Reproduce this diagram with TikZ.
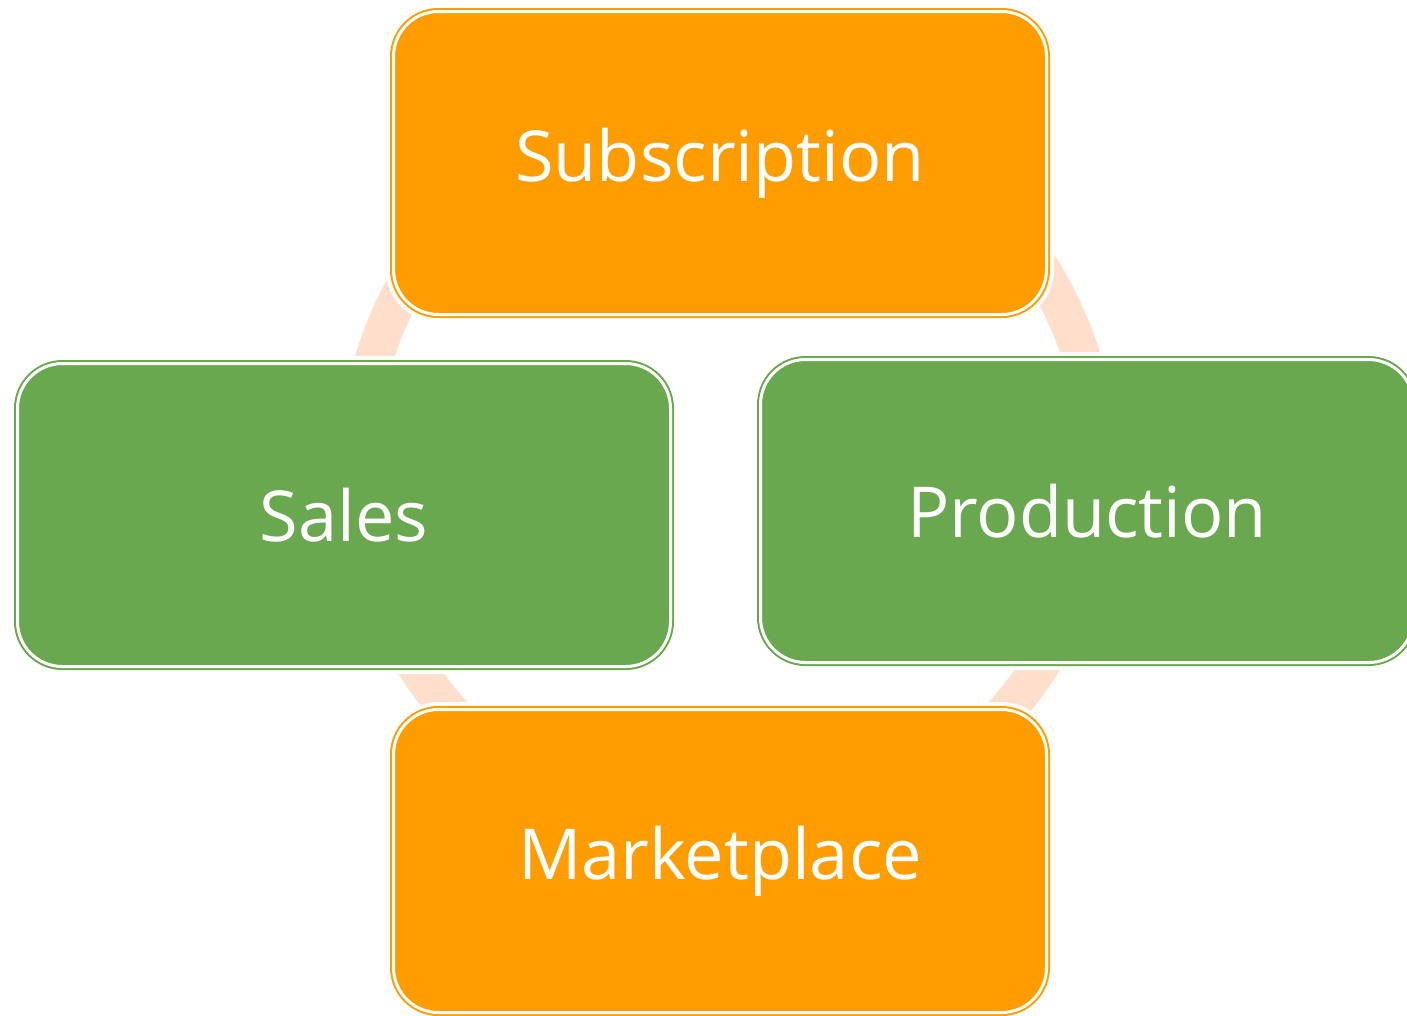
\documentclass[tikz,border=0pt]{standalone}
\usepackage{fontspec}
\setmainfont{Open Sans}
\usepackage{xcolor}
\usepackage{tikz}

\definecolor{cycleorange}{RGB}{255,157,0}
\definecolor{cyclegreen}{RGB}{106,168,79}
\definecolor{ringpeach}{RGB}{255,223,204}

\begin{document}
\begin{tikzpicture}[
    stage/.style={rectangle, rounded corners=0.45cm, minimum width=6.53cm, minimum height=3.03cm,
        inner sep=0pt, fill=#1, draw=white, line width=0.03cm,
        preaction={draw=white, line width=0.15cm},
        preaction={draw=#1, line width=0.07cm},
        text=white, font=\fontsize{20}{24}\selectfont},
    ring/.style={draw=ringpeach, line width=0.38cm}
]
                \useasboundingbox (0,0) rectangle (14.07,-10.15);

                % Ring behind the boxes
                \coordinate (hub) at (7.28,-4.67);
                \draw[ring] (hub) circle (3.70);

                % Boxes
                \node[stage=cycleorange] (sub) at (7.20,-1.63) {Subscription};
                \node[stage=cyclegreen] (sales) at (3.44,-5.15) {Sales};
                \node[stage=cyclegreen] (prod) at (10.87,-5.11) {Production};
                \node[stage=cycleorange] (market) at (7.20,-8.61) {Marketplace};
            \end{tikzpicture}
\end{document}
